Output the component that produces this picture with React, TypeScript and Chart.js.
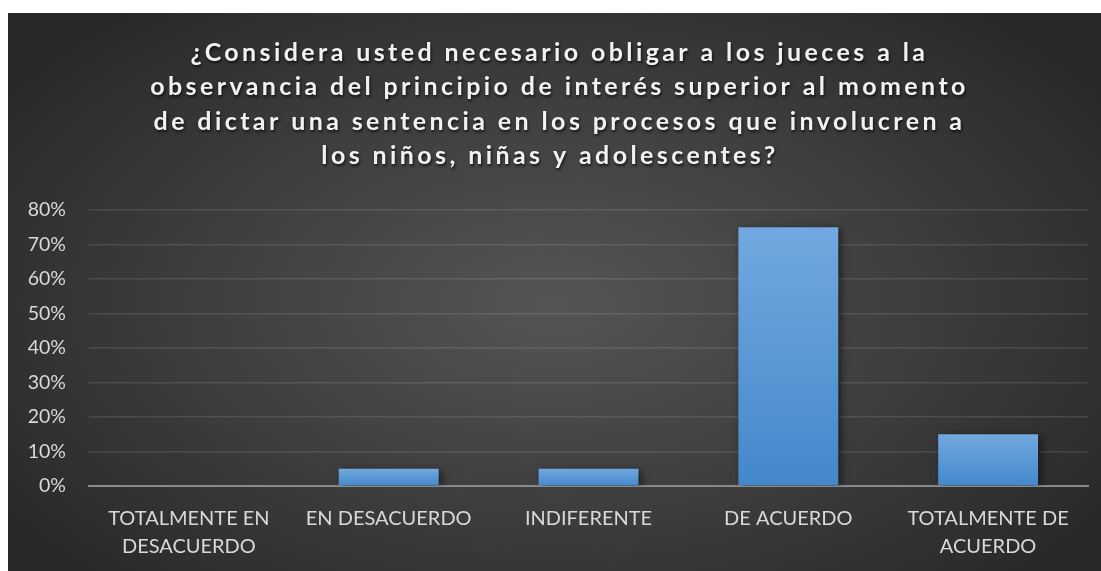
import React, { useEffect, useRef } from "react";
import { Chart, registerables } from "chart.js";

Chart.register(...registerables);

// ---- data ----
const titleLines: string[] = [
  "¿Considera usted necesario obligar a los jueces a la",
  "observancia del principio de interés superior al momento",
  "de dictar una sentencia en los procesos que involucren a",
  "los niños, niñas y adolescentes?  ",
];

const categories: string[][] = [
  ["TOTALMENTE EN", "DESACUERDO"],
  ["EN DESACUERDO"],
  ["INDIFERENTE"],
  ["DE ACUERDO"],
  ["TOTALMENTE DE", "ACUERDO"],
];

const percentages: number[] = [0, 0.05, 0.05, 0.75, 0.15];

const yMin = 0;
const yMax = 0.8;
const yStep = 0.1;

// ---- plugins ----
const titlePlugin = {
  id: "wrappedTitle",
  afterDraw(chart: any) {
    const ctx = chart.ctx as CanvasRenderingContext2D;
    ctx.save();
    ctx.font = "bold 25px Lato";
    (ctx as any).letterSpacing = "3.4px";
    ctx.fillStyle = "#f2f2f2";
    ctx.textAlign = "center";
    ctx.textBaseline = "alphabetic";
    ctx.shadowColor = "rgba(0,0,0,0.7)";
    ctx.shadowBlur = 3;
    ctx.shadowOffsetX = 1;
    ctx.shadowOffsetY = 2;
    const cx = chart.width / 2 + 5;
    titleLines.forEach((line, i) => {
      ctx.fillText(line, cx, 47.5 + i * 34.5);
    });
    ctx.restore();
  },
};

const barShadowPlugin = {
  id: "barShadow",
  beforeDatasetsDraw(chart: any) {
    const c = chart.ctx as CanvasRenderingContext2D;
    c.save();
    c.shadowColor = "rgba(0,0,0,0.55)";
    c.shadowBlur = 8;
    c.shadowOffsetX = 3;
    c.shadowOffsetY = 2;
  },
  afterDatasetsDraw(chart: any) {
    chart.ctx.restore();
  },
};

function barFill(context: any) {
  const fallback = "#5b9bd5";
  if (context.type !== "data" || !context.parsed) return fallback;
  const chart = context.chart;
  const y = chart.scales?.y;
  if (!y) return fallback;
  const top = y.getPixelForValue(context.parsed.y);
  const base = y.getPixelForValue(0);
  if (!isFinite(top) || !isFinite(base) || Math.abs(top - base) < 0.5) return fallback;
  const g = chart.ctx.createLinearGradient(0, top, 0, base);
  g.addColorStop(0, "#72a8df");
  g.addColorStop(1, "#4488cb");
  return g;
}

export default function App() {
  const canvasRef = useRef<HTMLCanvasElement | null>(null);

  useEffect(() => {
    document.documentElement.style.overflow = "hidden";
    document.body.style.overflow = "hidden";
    const canvas = canvasRef.current;
    if (!canvas) return;
    const chart = new Chart(canvas, {
      type: "bar",
      data: {
        labels: categories,
        datasets: [
          {
            data: percentages,
            backgroundColor: barFill,
            borderWidth: 0,
            barPercentage: 0.5,
            categoryPercentage: 1,
          },
        ],
      },
      plugins: [barShadowPlugin, titlePlugin],
      options: {
        responsive: true,
        maintainAspectRatio: false,
        animation: false,
        layout: { padding: { top: 197, right: 13, bottom: 0, left: 0 } },
        plugins: {
          legend: { display: false },
          tooltip: { enabled: false },
          title: { display: false },
        },
        scales: {
          x: {
            z: 1,
            grid: { display: false, drawTicks: false },
            border: { display: true, color: "#8a8a8a", width: 2 },
            ticks: {
              color: "#d9d9d9",
              padding: 18,
              maxRotation: 0,
              autoSkip: false,
              font: { family: "Lato", size: 20, lineHeight: 1.42 },
            },
            afterFit(scale: any) {
              scale.height = 85;
            },
          },
          y: {
            min: yMin,
            max: yMax,
            grid: { color: "rgba(255,255,255,0.11)", lineWidth: 1.5, drawTicks: false },
            border: { display: false },
            ticks: {
              stepSize: yStep,
              color: "#d9d9d9",
              padding: 23,
              font: { family: "Lato", size: 19.5 },
              callback: (v: any) => Math.round(Number(v) * 100) + "%",
            },
            afterFit(scale: any) {
              scale.width = 81;
            },
          },
        },
      },
    });
    return () => chart.destroy();
  }, []);

  return (
    <div
      style={{
        position: "absolute",
        left: 8,
        top: 13,
        width: 1093,
        height: 558,
        background:
          "radial-gradient(ellipse 62% 70% at 50% 52%, #555555 0%, #3f3f3f 50%, #282828 100%)",
        overflow: "hidden",
      }}
    >
      <canvas ref={canvasRef} />
    </div>
  );
}
